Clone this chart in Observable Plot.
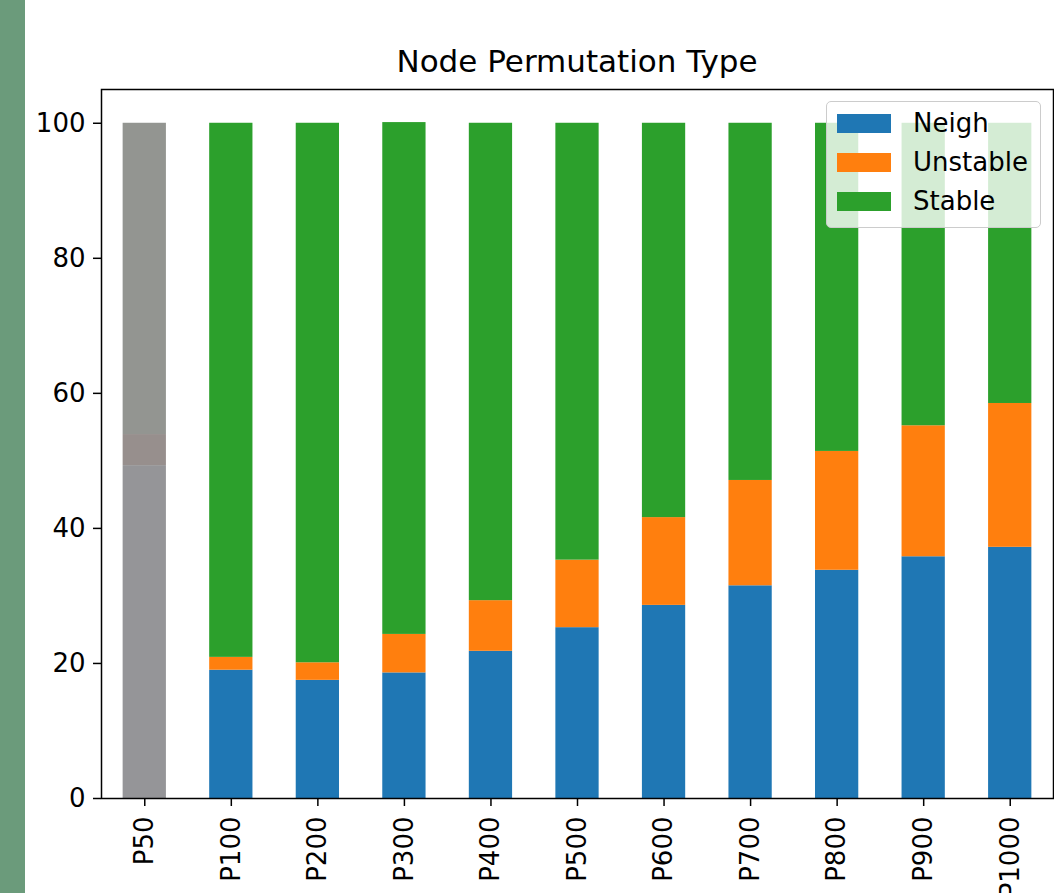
<!DOCTYPE html>
<html>
<head>
<meta charset="utf-8">
<script src="https://cdn.jsdelivr.net/npm/d3@7"></script>
<script src="https://cdn.jsdelivr.net/npm/@observablehq/plot@0.6"></script>
<style>
  html, body { margin: 0; padding: 0; background: #fff; }
  #wrap { position: relative; width: 1054px; height: 893px; overflow: hidden; font-family: "DejaVu Sans", sans-serif; }
  #strip { position: absolute; left: 0; top: 0; width: 25px; height: 893px; background: #6b9b7b; }
  #white { position: absolute; left: 25px; top: 0; width: 1029px; height: 893px; background: #fff; }
  #chart { position: absolute; left: 0; top: 0; }
  #title { position: absolute; left: 101px; width: 952px; top: 44px; text-align: center; font-size: 31px; line-height: 34px; color: #000; }
  #legend { position: absolute; left: 826px; top: 101px; width: 213px; height: 125px; border: 1.5px solid #cccccc; border-radius: 5px; background: rgba(255,255,255,0.8); }
  .row { position: absolute; left: 10px; height: 20px; }
  .sw { position: absolute; left: 0; top: 0; width: 54px; height: 19px; }
  .lb { position: absolute; left: 76px; top: -8px; font-size: 26px; line-height: 34px; white-space: nowrap; color: #000; }
</style>
</head>
<body>
<div id="wrap">
  <div id="strip"></div>
  <div id="white"></div>
  <div id="chart"></div>
  <div id="title">Node Permutation Type</div>
  <div id="legend"></div>
</div>
<script>
const categories = ["P50", "P100", "P200", "P300", "P400", "P500", "P600", "P700", "P800", "P900", "P1000"];
const seriesNames = ["Neigh", "Unstable", "Stable"];
const neigh    = [49.3, 19.0, 17.5, 18.6, 21.8, 25.3, 28.6, 31.5, 33.8, 35.8, 37.2];
const unstable = [ 4.6,  1.9,  2.6,  5.7,  7.5, 10.0, 13.0, 15.6, 17.6, 19.4, 21.3];
const stable   = [46.1, 79.1, 79.9, 75.8, 70.7, 64.7, 58.4, 52.9, 48.6, 44.8, 41.5];
const yTicks = [0, 20, 40, 60, 80, 100];

const seriesColors = {Neigh: "#1f77b4", Unstable: "#ff7f0e", Stable: "#2ca02c"};
const mutedColors = {Neigh: "#959598", Unstable: "#978f8d", Stable: "#939591"};
const mutedCategory = "P50";

const seriesValues = {Neigh: neigh, Unstable: unstable, Stable: stable};
const rows = [];
categories.forEach((c, i) => {
  seriesNames.forEach(s => rows.push({cat: c, series: s, value: seriesValues[s][i]}));
});

const chart = Plot.plot({
  width: 1054,
  height: 893,
  marginLeft: 101,
  marginRight: 1,
  marginTop: 89,
  marginBottom: 95,
  style: {fontFamily: "DejaVu Sans, sans-serif", fontSize: "26px", background: "transparent", color: "#000", overflow: "visible"},
  x: {domain: categories, paddingInner: 0.5, paddingOuter: 0.25, align: 0.5, round: false},
  y: {domain: [0, 105]},
  color: {type: "identity"},
  marks: [
    Plot.barY(rows, Plot.stackY({
      x: "cat",
      y: "value",
      z: "series",
      order: seriesNames,
      fill: d => (d.cat === mutedCategory ? mutedColors : seriesColors)[d.series]
    })),
    Plot.axisY({ticks: yTicks, tickSize: 8, tickPadding: 8, label: null, strokeWidth: 1.5, tickFormat: d => String(d)}),
    Plot.axisX({tickRotate: -90, tickSize: 8, tickPadding: 10, label: null, strokeWidth: 1.5}),
    Plot.frame({stroke: "#000", strokeWidth: 1.5})
  ]
});
document.getElementById("chart").appendChild(chart);

const legend = document.getElementById("legend");
seriesNames.forEach((s, i) => {
  const row = document.createElement("div");
  row.className = "row";
  row.style.top = (12 + i * 39) + "px";
  const sw = document.createElement("div");
  sw.className = "sw";
  sw.style.background = seriesColors[s];
  const lb = document.createElement("div");
  lb.className = "lb";
  lb.textContent = s;
  row.appendChild(sw);
  row.appendChild(lb);
  legend.appendChild(row);
});
</script>
</body>
</html>
